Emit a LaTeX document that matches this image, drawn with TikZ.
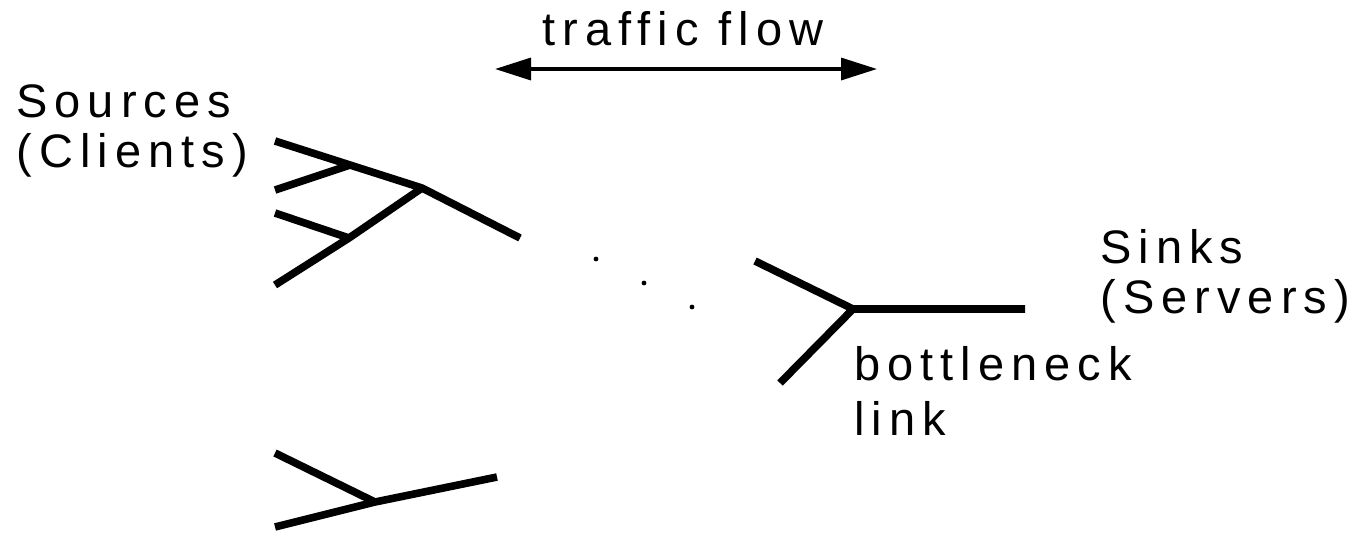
\documentclass[tikz,border=0pt]{standalone}
\usepackage{fontspec}
\newfontfamily\labelfont{Liberation Sans}[LetterSpace=15]
\usetikzlibrary{arrows.meta}

\begin{document}
\begin{tikzpicture}[
        x=0.5pt, y=-0.5pt,
        branch/.style={line width=3.8pt, line cap=butt},
        flowarrow/.style={line width=1.7pt,
            {Triangle[length=18pt, width=11pt]}-{Triangle[length=18pt, width=11pt]}},
        every node/.style={font=\labelfont\fontsize{23.5}{25}\selectfont,
            inner sep=0pt, align=left, anchor=base west}
]
\useasboundingbox (0,0) rectangle (1358,532);

%--- traffic flow arrow ---------------------------------------
\coordinate (fl) at (495,69);        % left tip
\coordinate (fr) at (877,69);        % right tip
\draw[flowarrow] (fl) -- (fr);
\node (flow) at (542,45) {traffic flow};

%--- source tree ----------------------------------------------
\coordinate (s1) at (275,141);       % client ends
\coordinate (s2) at (275,190);
\coordinate (s3) at (275,213);
\coordinate (s4) at (275,285);
\coordinate (j1) at (350,165);       % first joins
\coordinate (j2) at (349,238);
\coordinate (j3) at (422,188);       % second join
\coordinate (e1) at (520,238);       % towards the bottleneck

\draw[branch] (s1) -- (j1) -- (j3) -- (e1);
\draw[branch] (s2) -- (j1);
\draw[branch] (s3) -- (j2);
\draw[branch] (s4) -- (j2) -- (j3);

%--- lone source pair -----------------------------------------
\coordinate (q1) at (275,453);
\coordinate (q2) at (275,527);
\coordinate (k)  at (375,502);       % join
\coordinate (e2) at (497,477);

\draw[branch] (q1) -- (k);
\draw[branch] (q2) -- (k) -- (e2);

%--- ellipsis -------------------------------------------------
\fill (596,259) circle (1.2pt);
\fill (644,283) circle (1.2pt);
\fill (692,307) circle (1.2pt);

%--- bottleneck side ------------------------------------------
\coordinate (r1) at (755,261);
\coordinate (r2) at (780,383);
\coordinate (b1) at (853,309);       % router
\coordinate (b2) at (1025,309);      % server side

\draw[branch] (r1) -- (b1) -- (b2);
\draw[branch] (r2) -- (b1);

%--- labels (anchored on the last line) -----------------------
\node (src)  at (16,167)   {Sources\\(Clients)};
\node (snk)  at (1100,313) {Sinks\\(Servers)};
\node (bott) at (854,435)  {bottleneck\\[2.5pt]link};

\end{tikzpicture}
\end{document}
